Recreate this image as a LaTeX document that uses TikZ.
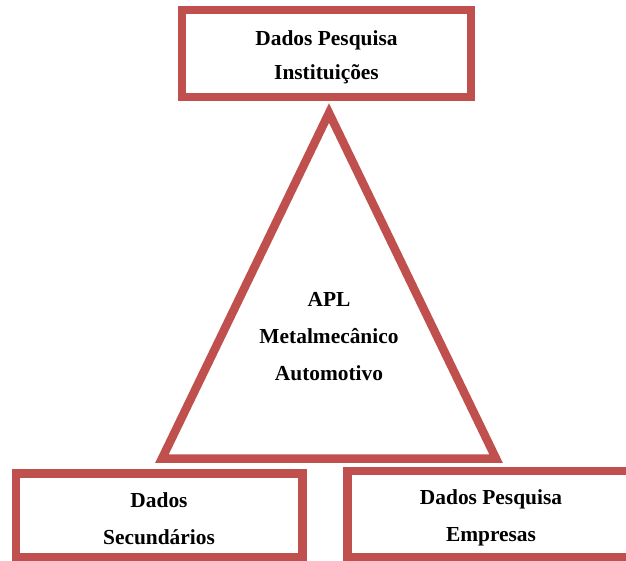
\documentclass[tikz,border=0pt]{standalone}
\usepackage{fontspec}
\setmainfont{Liberation Serif}
\definecolor{boxred}{HTML}{C0504D}
\begin{document}
\begin{tikzpicture}[x=1pt,y=-1pt,
  framebox/.style={draw=boxred,line width=8.5pt,rectangle,inner sep=0pt},
  tri/.style={draw=boxred,line width=8.5pt,line join=miter},
  boxtext/.style={align=center,inner sep=0pt,font=\fontsize{21.4}{37}\selectfont\bfseries}]
\useasboundingbox (0,0) rectangle (626,561);
\clip (0,0) rectangle (626,561);
% top box
\node[framebox,minimum width=289pt,minimum height=87pt] (inst) at (326.5,53.5) {};
\node[boxtext,font=\fontsize{21.4}{34}\selectfont\bfseries] (insttxt) at (326.5,57)
  {Dados Pesquisa\\Instituições};
% triangle
\coordinate (apex) at (329,113);
\coordinate (bl) at (162,458.5);
\coordinate (br) at (496,458.5);
\draw[tri] (apex) -- (bl) -- (br) -- cycle;
\node[boxtext] (apl) at (329,337) {APL\\Metalmecânico\\Automotivo};
% bottom left box
\node[framebox,minimum width=286.5pt,minimum height=83.5pt] (sec) at (159,515.25) {};
\node[boxtext] (sectxt) at (159,518.5) {Dados\\Secundários};
% bottom right box
\node[framebox,minimum width=287pt,minimum height=86pt] (emp) at (491,514) {};
\node[boxtext] (emptxt) at (491,517.5) {Dados Pesquisa\\Empresas};
\end{tikzpicture}
\end{document}
